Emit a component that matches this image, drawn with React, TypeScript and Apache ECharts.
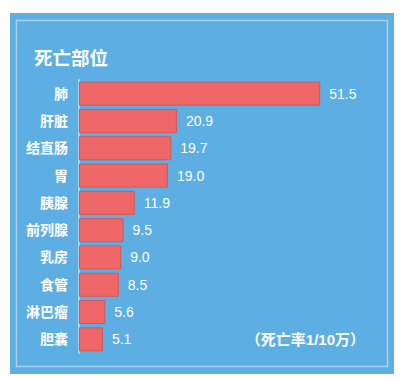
import React, { useEffect, useRef } from "react";
import * as echarts from "echarts";

const categories = ["肺", "肝脏", "结直肠", "胃", "胰腺", "前列腺", "乳房", "食管", "淋巴瘤", "胆囊"];
const values = [51.5, 20.9, 19.7, 19.0, 11.9, 9.5, 9.0, 8.5, 5.6, 5.1];
const titleText = "死亡部位";
const unitText = "（死亡率1/10万）";

const FONT = "'Liberation Sans', 'Noto Sans CJK SC', sans-serif";

export default function App() {
  const ref = useRef<HTMLDivElement>(null);
  useEffect(() => {
    if (!ref.current) return;
    const chart = echarts.init(ref.current, undefined, { renderer: "svg" });
    chart.setOption({
      animation: false,
      backgroundColor: "#ffffff",
      textStyle: { fontFamily: FONT },
      graphic: [
        {
          type: "rect",
          z: -10,
          shape: { x: 10, y: 13, width: 384, height: 361 },
          style: { fill: "#5DAEE2" },
        },
        {
          type: "rect",
          z: -9,
          shape: { x: 16.5, y: 20.5, width: 371, height: 346 },
          style: { fill: "none", stroke: "#A6D3F1", lineWidth: 1.5 },
        },
        {
          type: "text",
          x: 34,
          y: 58,
          style: {
            text: titleText,
            fill: "#ffffff",
            font: `bold 18.5px ${FONT}`,
            verticalAlign: "middle",
          },
        },
        {
          type: "text",
          x: 365,
          y: 339,
          style: {
            text: unitText,
            fill: "#ffffff",
            font: `bold 15px ${FONT}`,
            align: "right",
            verticalAlign: "middle",
          },
        },
      ],
      grid: { left: 79, top: 80, width: 281, height: 273, containLabel: false },
      xAxis: {
        type: "value",
        min: 0,
        max: 60,
        show: false,
      },
      yAxis: {
        type: "category",
        data: categories,
        inverse: true,
        axisLine: { show: true, lineStyle: { color: "#A6D3F1", width: 2 } },
        axisTick: { show: false },
        axisLabel: {
          color: "#ffffff",
          fontWeight: "bold",
          fontSize: 14,
          margin: 11,
          fontFamily: FONT,
        },
      },
      series: [
        {
          type: "bar",
          data: values,
          barWidth: 24,
          itemStyle: { color: "#F06767", borderColor: "#D95656", borderWidth: 1 },
          label: {
            show: true,
            position: "right",
            distance: 9,
            color: "#ffffff",
            fontSize: 14,
            fontFamily: FONT,
            formatter: (p: any) => Number(p.value).toFixed(1),
          },
        },
      ],
    });
    return () => chart.dispose();
  }, []);
  return (
    <div
      ref={ref}
      style={{ position: "fixed", left: 0, top: 0, width: 400, height: 379 }}
    />
  );
}
